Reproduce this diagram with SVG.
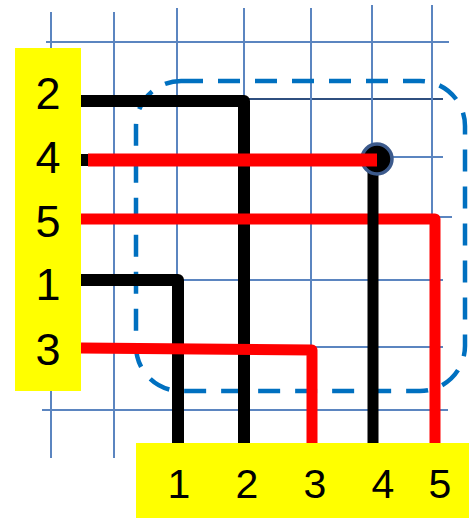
<svg xmlns="http://www.w3.org/2000/svg" width="469" height="518" viewBox="0 0 469 518">
<style>
.grid line{stroke:#5B85C0;stroke-width:2}
.lbl{font-family:"Liberation Sans",Arial,sans-serif;font-size:45px;fill:#000;text-anchor:middle}
.blk{stroke:#000;stroke-width:12;fill:none;stroke-linejoin:round}
.red{stroke:#FF0000;stroke-width:11;fill:none;stroke-linejoin:round}
</style>
<rect width="469" height="518" fill="#fff"/>
<g class="grid" id="grid">
<line x1="46" y1="42" x2="449" y2="42"/>
<line x1="46" y1="99" x2="443" y2="99" style="stroke:#2F4F7F"/>
<line x1="46" y1="157" x2="443" y2="157"/>
<line x1="46" y1="217" x2="452" y2="217"/>
<line x1="46" y1="280" x2="443" y2="280"/>
<line x1="46" y1="347" x2="443" y2="347"/>
<line x1="42" y1="410" x2="448" y2="410"/>
<line x1="51" y1="12" x2="51" y2="458"/>
<line x1="114" y1="12" x2="114" y2="458"/>
<line x1="177" y1="8" x2="177" y2="458"/>
<line x1="244" y1="8" x2="244" y2="458"/>
<line x1="311" y1="8" x2="311" y2="458"/>
<line x1="372" y1="5" x2="372" y2="458"/>
<line x1="432" y1="5" x2="432" y2="458"/>
</g>
<g id="region">
<rect x="136" y="81" width="329" height="310" rx="45" ry="45" fill="none" stroke="#0070C0" stroke-width="4.5" stroke-dasharray="22 15"/>
</g>
<g id="connectors">
<polyline class="blk" points="81,101 244,101 244,443"/>
<polyline class="red" points="81,219 435,219 435,443"/>
<polyline class="blk" points="81,280 178,280 178,443"/>
<polyline class="red" points="81,348 312,350 312,443"/>
<line x1="373" y1="160" x2="373" y2="443" stroke="#000" stroke-width="11"/>
<circle cx="377" cy="159" r="15" fill="#000" stroke="#3C5A8C" stroke-width="3.5"/>
<line x1="81" y1="160" x2="92" y2="160" stroke="#000" stroke-width="12"/>
<line x1="88" y1="160" x2="377" y2="160" stroke="#FF0000" stroke-width="13"/>
</g>
<g id="left-labels">
<rect x="15" y="48" width="66" height="343" fill="#FFFF00"/>
<text class="lbl" x="48" y="109">2</text>
<text class="lbl" x="48" y="173">4</text>
<text class="lbl" x="48" y="237">5</text>
<text class="lbl" x="48" y="300">1</text>
<text class="lbl" x="48" y="365">3</text>
</g>
<g id="bottom-labels">
<rect x="136" y="443" width="333" height="75" fill="#FFFF00"/>
<text class="lbl" x="179" y="498" style="font-size:41px">1</text>
<text class="lbl" x="247" y="498" style="font-size:41px">2</text>
<text class="lbl" x="315" y="498" style="font-size:41px">3</text>
<text class="lbl" x="383" y="498" style="font-size:41px">4</text>
<text class="lbl" x="440" y="498" style="font-size:41px">5</text>
</g>
</svg>
